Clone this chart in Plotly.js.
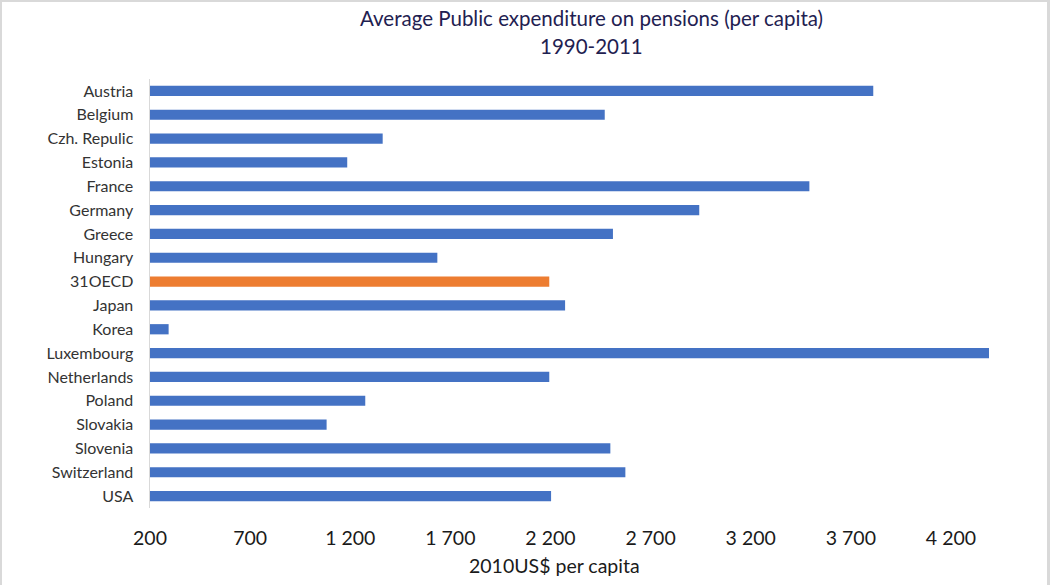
<!DOCTYPE html>
<html>
<head>
<meta charset="utf-8">
<script src="https://cdn.plot.ly/plotly-3.0.1.min.js"></script>
<style>
html,body{margin:0;padding:0;background:#fff;}
#wrap{position:relative;width:1050px;height:585px;}
#chart{width:1050px;height:585px;}
#frame{position:absolute;left:0;top:0;width:1050px;height:585px;box-sizing:border-box;border-left:2px solid #d9d9d9;border-top:2px solid #d9d9d9;border-right:3px solid #d9d9d9;pointer-events:none;}
</style>
</head>
<body>
<div id="wrap"><div id="chart"></div><div id="frame"></div></div>
<script>
const countries = ["Austria","Belgium","Czh. Repulic","Estonia","France","Germany","Greece","Hungary","31OECD","Japan","Korea","Luxembourg","Netherlands","Poland","Slovakia","Slovenia","Switzerland","USA"];
const values = [3812,2471,1362,1185,3493,2943,2512,1635,2194,2273,293,4390,2194,1275,1082,2499,2574,2203];
const highlight = "31OECD";
const axisMin = 200;
const xTicks = [200,700,1200,1700,2200,2700,3200,3700,4200];
const titleLines = ["Average Public expenditure on pensions (per capita)","1990-2011"];
const xTitle = "2010US$ per capita";

const colors = countries.map(c => c === highlight ? "#ED7D31" : "#4472C4");
const font = "Lato, 'Open Sans', sans-serif";

// bars start at the axis minimum (200) as in the original
const trace = {
  type: "bar",
  orientation: "h",
  y: countries,
  x: values.map(v => v - axisMin),
  base: axisMin,
  marker: {color: colors},
  hoverinfo: "none"
};

const layout = {
  width: 1050, height: 585,
  margin: {l: 150, r: 59, t: 79, b: 77},
  paper_bgcolor: "#fff", plot_bgcolor: "#fff",
  showlegend: false,
  bargap: 0.57,
  font: {family: font, color: "#262626"},
  xaxis: {
    range: [axisMin, 4400],
    tickvals: xTicks,
    ticktext: xTicks.map(v => v >= 1000 ? Math.floor(v/1000) + " " + String(v%1000).padStart(3,"0") : String(v)),
    showgrid: false, zeroline: false, showline: false,
    ticks: "", ticklabelstandoff: 16,
    tickfont: {size: 19.5, color: "#1a1a1a", family: font},
    fixedrange: true
  },
  yaxis: {
    type: "category",
    autorange: "reversed",
    showgrid: false, zeroline: false,
    showline: true, linecolor: "#d9d9d9", linewidth: 1.5,
    ticks: "", ticklabelstandoff: 12,
    tickfont: {size: 16, color: "#333333", family: font},
    fixedrange: true
  },
  annotations: [
    {text: titleLines[0], xref: "paper", yref: "paper", x: 0.5244, y: 1.142, xanchor: "center", yanchor: "middle", showarrow: false, font: {size: 20.5, color: "#1f2151", family: font}},
    {text: titleLines[1], xref: "paper", yref: "paper", x: 0.5244, y: 1.078, xanchor: "center", yanchor: "middle", showarrow: false, font: {size: 20.5, color: "#1f2151", family: font}},
    {text: xTitle, xref: "paper", yref: "paper", x: 0.4804, y: -0.135, xanchor: "center", yanchor: "middle", showarrow: false, font: {size: 19.5, color: "#1a1a1a", family: font}}
  ]
};

Plotly.newPlot("chart", [trace], layout, {displayModeBar: false, staticPlot: true});
</script>
</body>
</html>
